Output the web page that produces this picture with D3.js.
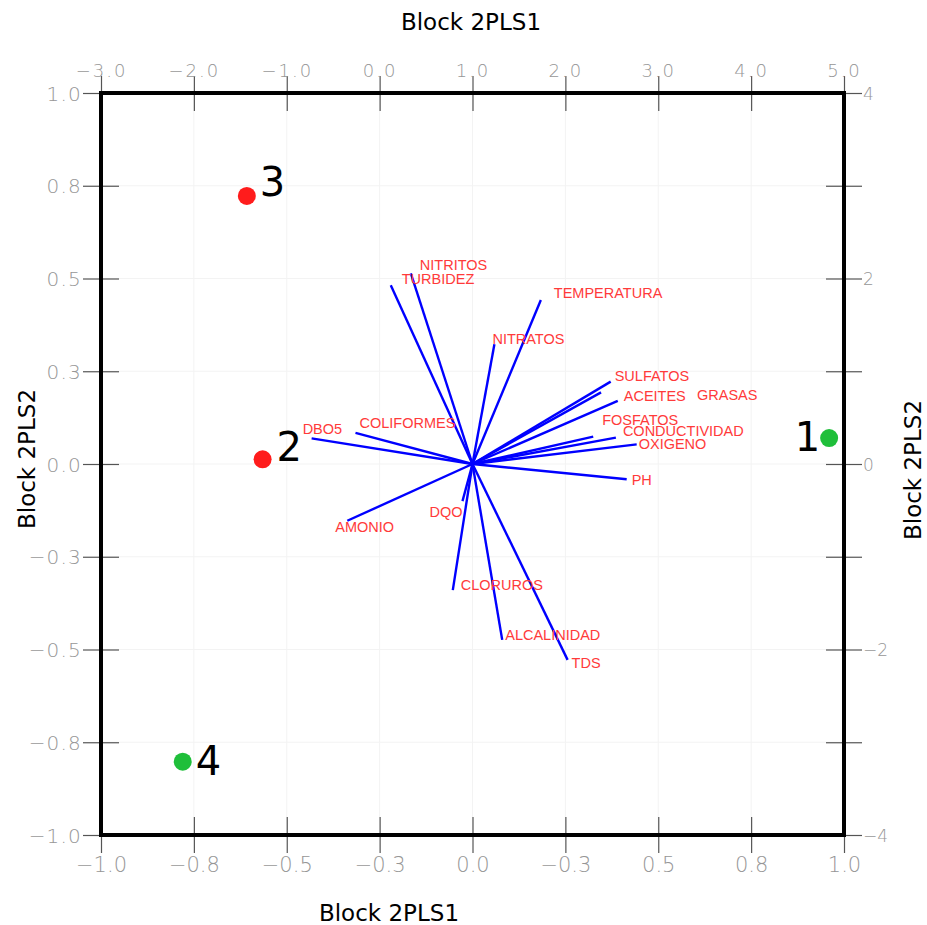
<!DOCTYPE html>
<html>
<head>
<meta charset="utf-8">
<script src="https://cdn.jsdelivr.net/npm/d3@7"></script>
<style>
  html, body { margin: 0; padding: 0; background: #fff; }
  svg { display: block; }
</style>
</head>
<body>
<svg id="chart" width="927" height="925"></svg>
<script>
// ---- data ----
// Loadings of the water-quality variables on Block 2PLS1 / Block 2PLS2
const variables = ["TURBIDEZ", "NITRITOS", "TEMPERATURA", "NITRATOS", "SULFATOS", "ACEITES", "GRASAS",
  "FOSFATOS", "CONDUCTIVIDAD", "OXIGENO", "PH", "DBO5", "COLIFORMES", "AMONIO", "DQO",
  "CLORUROS", "ALCALINIDAD", "TDS"];
const loadingPLS1 = [-0.220, -0.166, 0.184, 0.059, 0.372, 0.391, 0.346,
  0.325, 0.386, 0.442, 0.415, -0.433, -0.315, -0.337, -0.027,
  -0.053, 0.080, 0.256];
const loadingPLS2 = [0.482, 0.514, 0.442, 0.323, 0.222, 0.170, 0.193,
  0.074, 0.071, 0.053, -0.041, 0.069, 0.084, -0.153, -0.100,
  -0.340, -0.474, -0.528];

// Sample scores (upper / right axes)
const samples = ["1", "2", "3", "4"];
const scorePLS1 = [4.84, -1.26, -1.43, -2.12];
const scorePLS2 = [0.28, 0.05, 2.89, -3.21];
const sampleGroup = ["A", "B", "B", "A"];

// Tick values and their printed labels
const loadTicks = [-1, -0.75, -0.5, -0.25, 0, 0.25, 0.5, 0.75, 1];
const bottomTickLabels = ["−1.0", "−0.8", "−0.5", "−0.3", "0.0", "−0.3", "0.5", "0.8", "1.0"];
const leftTickLabels = ["−1.0", "−0.8", "−0.5", "−0.3", "0.0", "0.3", "0.5", "0.8", "1.0"];
const topTicks = [-3, -2, -1, 0, 1, 2, 3, 4, 5];
const topTickLabels = ["−3.0", "−2.0", "−1.0", "0.0", "1.0", "2.0", "3.0", "4.0", "5.0"];
const rightTicks = [-4, -3, -2, -1, 0, 1, 2, 3, 4];
const rightTickLabels = ["−4", "", "−2", "", "0", "", "2", "", "4"];

// ---- layout ----
const L = 101, R = 844, T = 93, B = 835;
const tickFont = "'DejaVu Sans', sans-serif";
const tickColor = "#969696";
const groupColor = { A: "#1fbf3a", B: "#ff1c1c" };
// label nudges (px) applied to vector-end labels so they do not collide
const labelNudge = {
  TURBIDEZ: [11, -1], NITRITOS: [9, -3], TEMPERATURA: [13, -2], NITRATOS: [-2, 0],
  SULFATOS: [4, -1], ACEITES: [6, 0], GRASAS: [96, 8], FOSFATOS: [9, -12],
  CONDUCTIVIDAD: [7, -2], OXIGENO: [2, 5], PH: [5, 6], DBO5: [-9, -4],
  COLIFORMES: [4, -5], AMONIO: [-12, 11], DQO: [0, 16], CLORUROS: [8, 0],
  ALCALINIDAD: [3, 0], TDS: [4, 8]
};
const labelAnchor = { DQO: "end" };
// sample-number placement relative to the point (px)
const sampleNudge = { "1": [-9, 13], "2": [14, 2], "3": [13, 0], "4": [13, 13] };

const svg = d3.select("#chart");

const xLoad = d3.scaleLinear().domain([-1, 1]).range([L, R]);
const yLoad = d3.scaleLinear().domain([-1, 1]).range([B, T]);
const xScore = d3.scaleLinear().domain([-3, 5]).range([L, R]);
const yScore = d3.scaleLinear().domain([-4, 4]).range([B, T]);

// faint grid
const grid = svg.append("g").attr("stroke", "#f3f3f3").attr("stroke-width", 1);
grid.selectAll("line.v").data(loadTicks.slice(1, -1)).join("line")
  .attr("x1", d => xLoad(d)).attr("x2", d => xLoad(d)).attr("y1", T).attr("y2", B);
grid.selectAll("line.h").data(loadTicks.slice(1, -1)).join("line")
  .attr("class", "h")
  .attr("y1", d => yLoad(d)).attr("y2", d => yLoad(d)).attr("x1", L).attr("x2", R);

function styleAxis(g, size) {
  g.select(".domain").remove();
  g.selectAll(".tick line").attr("stroke", "#555").attr("stroke-width", 1.2);
  g.selectAll(".tick text").attr("fill", tickColor).attr("font-family", tickFont)
    .attr("font-weight", 200).attr("font-size", size);
}

// inner tick marks
const inner = 18;
svg.append("g").attr("transform", `translate(0,${B})`)
  .call(d3.axisTop(xLoad).tickValues(loadTicks).tickSize(inner).tickFormat(""))
  .call(g => styleAxis(g, 0));
svg.append("g").attr("transform", `translate(0,${T})`)
  .call(d3.axisBottom(xScore).tickValues(topTicks).tickSize(inner).tickFormat(""))
  .call(g => styleAxis(g, 0));
svg.append("g").attr("transform", `translate(${L},0)`)
  .call(d3.axisRight(yLoad).tickValues(loadTicks).tickSize(inner).tickFormat(""))
  .call(g => styleAxis(g, 0));
svg.append("g").attr("transform", `translate(${R},0)`)
  .call(d3.axisLeft(yScore).tickValues(rightTicks).tickSize(inner).tickFormat(""))
  .call(g => styleAxis(g, 0));

// outer axes with labels
svg.append("g").attr("transform", `translate(0,${B})`)
  .call(d3.axisBottom(xLoad).tickValues(loadTicks).tickSize(18).tickPadding(0)
    .tickFormat((d, i) => bottomTickLabels[i]))
  .call(g => styleAxis(g, 21))
  .call(g => g.selectAll(".tick text").attr("y", 36.5).attr("dy", 0));

svg.append("g").attr("transform", `translate(0,${T})`)
  .call(d3.axisTop(xScore).tickValues(topTicks).tickSize(17).tickPadding(0)
    .tickFormat((d, i) => topTickLabels[i]))
  .call(g => styleAxis(g, 18))
  .call(g => g.selectAll(".tick text").attr("y", -16).attr("dy", 0).attr("letter-spacing", 2));

svg.append("g").attr("transform", `translate(${L},0)`)
  .call(d3.axisLeft(yLoad).tickValues(loadTicks).tickSize(18).tickPadding(1)
    .tickFormat((d, i) => leftTickLabels[i]))
  .call(g => styleAxis(g, 20))
  .call(g => g.selectAll(".tick text").attr("dy", "0.36em").attr("letter-spacing", 1.2));

svg.append("g").attr("transform", `translate(${R},0)`)
  .call(d3.axisRight(yScore).tickValues(rightTicks).tickSize(18).tickPadding(1)
    .tickFormat((d, i) => rightTickLabels[i]))
  .call(g => styleAxis(g, 17))
  .call(g => g.selectAll(".tick text").attr("dy", "0.36em"));

// frame
svg.append("rect").attr("x", L).attr("y", T).attr("width", R - L).attr("height", B - T)
  .attr("fill", "none").attr("stroke", "#000").attr("stroke-width", 4);

// axis titles
const titleFont = "'DejaVu Sans', sans-serif";
svg.append("text").attr("x", 471).attr("y", 30).attr("text-anchor", "middle")
  .attr("font-family", titleFont).attr("font-size", 23).text("Block 2PLS1");
svg.append("text").attr("x", 389).attr("y", 921).attr("text-anchor", "middle")
  .attr("font-family", titleFont).attr("font-size", 23).text("Block 2PLS1");
svg.append("text").attr("transform", "translate(35,459) rotate(-90)").attr("text-anchor", "middle")
  .attr("font-family", titleFont).attr("font-size", 23).text("Block 2PLS2");
svg.append("text").attr("transform", "translate(921,470) rotate(-90)").attr("text-anchor", "middle")
  .attr("font-family", titleFont).attr("font-size", 23).text("Block 2PLS2");

// loading vectors
const vec = variables.map((name, i) => ({ name, x: loadingPLS1[i], y: loadingPLS2[i] }));
svg.append("g").selectAll("line").data(vec).join("line")
  .attr("x1", xLoad(0)).attr("y1", yLoad(0))
  .attr("x2", d => xLoad(d.x)).attr("y2", d => yLoad(d.y))
  .attr("stroke", "#0000ff").attr("stroke-width", 2.4);

svg.append("g").selectAll("text").data(vec).join("text")
  .attr("x", d => xLoad(d.x) + labelNudge[d.name][0])
  .attr("y", d => yLoad(d.y) + labelNudge[d.name][1])
  .attr("text-anchor", d => labelAnchor[d.name] || "start")
  .attr("font-family", "'Liberation Sans', Arial, sans-serif")
  .attr("font-size", 14.5).attr("fill", "#ff3a3a")
  .text(d => d.name);

// sample points
const pts = samples.map((s, i) => ({ s, x: scorePLS1[i], y: scorePLS2[i], g: sampleGroup[i] }));
svg.append("g").selectAll("circle").data(pts).join("circle")
  .attr("cx", d => xScore(d.x)).attr("cy", d => yScore(d.y)).attr("r", 9)
  .attr("fill", d => groupColor[d.g]);
svg.append("g").selectAll("text").data(pts).join("text")
  .attr("x", d => xScore(d.x) + sampleNudge[d.s][0])
  .attr("y", d => yScore(d.y) + sampleNudge[d.s][1])
  .attr("text-anchor", d => d.s === "1" ? "end" : "start")
  .attr("font-family", titleFont).attr("font-size", 40).attr("fill", "#000")
  .text(d => d.s);
</script>
</body>
</html>
